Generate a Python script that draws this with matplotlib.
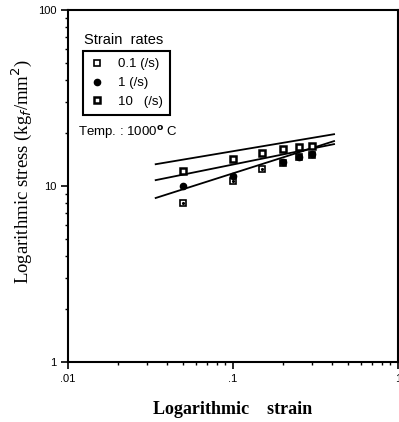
import numpy as np
import matplotlib
matplotlib.use('Agg')
import matplotlib.pyplot as plt
from matplotlib.ticker import FixedLocator, LogLocator, NullFormatter

# strain values (logarithmic strain)
strain = [0.05, 0.1, 0.15, 0.2, 0.25, 0.3]
# stress (kgf/mm2) for each strain rate
stress_01 = [8.0, 10.7, 12.5, 13.5, 14.6, 15.0]
strain_1 = [0.05, 0.1, 0.2, 0.25, 0.3]
stress_1 = [10.0, 11.4, 13.7, 14.6, 15.2]
stress_10 = [12.2, 14.2, 15.4, 16.2, 16.7, 16.9]

# fitted lines, end points
line_x = [0.034, 0.41]
line_top = [13.3, 19.7]
line_mid = [10.8, 17.3]
line_bot = [8.55, 18.0]

fig = plt.figure(figsize=(3.99, 4.22), dpi=100)
ax = fig.add_axes([0.1704, 0.1422, 0.827, 0.834])
ax.set_xscale('log')
ax.set_yscale('log')
ax.set_xlim(0.01, 1)
ax.set_ylim(1, 100)

for yy in (line_top, line_mid, line_bot):
    ax.plot(line_x, yy, color='black', lw=1.3)

ax.plot(strain, stress_01, 's', ms=4.5, mfc='white', mec='black', mew=1.2, zorder=3)
ax.plot(strain, stress_01, '.', ms=2.5, color='black', zorder=4)
ax.plot(strain_1, stress_1, 'o', ms=4.5, color='black', zorder=3)
ax.plot(strain, stress_10, 's', ms=4.5, mfc='white', mec='black', mew=1.8, zorder=3)

# legend handles
h1 = ax.plot([], [], 's', ms=4.5, mfc='white', mec='black', mew=1.2)[0]
h2 = ax.plot([], [], 'o', ms=4.5, color='black')[0]
h3 = ax.plot([], [], 's', ms=4.5, mfc='white', mec='black', mew=1.8)[0]
leg = ax.legend([h1, h2, h3], ['0.1 (/s)', '1 (/s)', '10   (/s)'],
                loc='upper left', bbox_to_anchor=(0.045, 0.884),
                fancybox=False, edgecolor='black', framealpha=1,
                handlelength=1.0, handletextpad=1.1, labelspacing=0.5,
                borderpad=0.55, borderaxespad=0,
                prop={'family': 'Liberation Sans', 'size': 9.5})
leg.get_frame().set_linewidth(1.5)

ax.text(0.05, 0.915, 'Strain  rates', transform=ax.transAxes,
        family='Liberation Sans', fontsize=10.5, va='center')
ax.text(0.03, 0.653, 'Temp. : 1000$^{\\mathbf{o}}$ C', transform=ax.transAxes,
        family='Liberation Sans', fontsize=9.5, va='center')

ax.xaxis.set_major_locator(FixedLocator([0.01, 0.1, 1]))
ax.set_xticklabels(['.01', '.1', '1'])
ax.yaxis.set_major_locator(FixedLocator([1, 10, 100]))
ax.set_yticklabels(['1', '10', '100'])
ax.xaxis.set_minor_locator(LogLocator(subs=np.arange(2, 10)))
ax.yaxis.set_minor_locator(LogLocator(subs=np.arange(2, 10)))
ax.xaxis.set_minor_formatter(NullFormatter())
ax.yaxis.set_minor_formatter(NullFormatter())
ax.tick_params(which='major', direction='out', length=5, width=1.2, labelsize=8)
ax.tick_params(which='minor', direction='out', length=2.5, width=1)
for lab in ax.get_xticklabels() + ax.get_yticklabels():
    lab.set_family('Liberation Sans')
for s in ax.spines.values():
    s.set_linewidth(1.5)

ax.set_xlabel('Logarithmic    strain', family='Liberation Serif',
              fontweight='bold', fontsize=13)
ax.set_ylabel('Logarithmic stress (kg$_f$/mm$^2$)', family='Liberation Serif',
              fontsize=13.5)
ax.xaxis.set_label_coords(0.5, -0.112)
ax.yaxis.set_label_coords(-0.102, 0.54)

fig.savefig('out.png', dpi=100)
